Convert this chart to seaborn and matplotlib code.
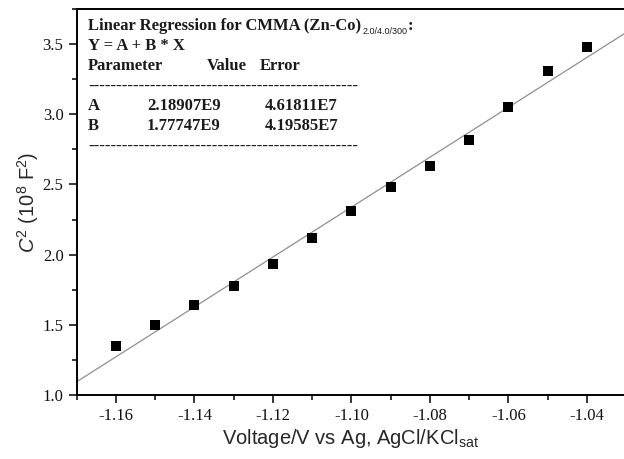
import matplotlib
matplotlib.use("Agg")
import matplotlib.pyplot as plt
import seaborn as sns
import pandas as pd
from matplotlib.ticker import MultipleLocator, FormatStrFormatter

# Mott-Schottky: C^2 contra potencial
voltage = [-1.16, -1.15, -1.14, -1.13, -1.12, -1.11, -1.10,
           -1.09, -1.08, -1.07, -1.06, -1.05, -1.04]
c2 = [1.35, 1.50, 1.64, 1.78, 1.93, 2.12, 2.31,
      2.48, 2.63, 2.82, 3.05, 3.31, 3.48]

# parâmetros da regressão (Origin)
param_names = ["A", "B"]
param_values = [2.18907e9, 1.77747e9]
param_errors = [4.61811e7, 4.19585e7]
param_labels = ["2.18907E9", "1.77747E9"]
error_labels = ["4.61811E7", "4.19585E7"]

df = pd.DataFrame({"voltage": voltage, "c2": c2})

sns.set_style("ticks")
plt.rcParams["font.family"] = ["Liberation Serif", "DejaVu Serif"]
plt.rcParams["axes.unicode_minus"] = False
plt.rcParams["mathtext.fontset"] = "custom"
plt.rcParams["mathtext.rm"] = "Liberation Sans"
plt.rcParams["mathtext.it"] = "Liberation Sans:italic"

fig = plt.figure(figsize=(6.24, 4.59), dpi=100)
ax = fig.add_axes([76.7 / 624, 1 - 395 / 459, 1 - 76.7 / 624, (395 - 9) / 459])

# reta ajustada, em unidades de 1e8
ax.axline((0, param_values[0] / 1e8), slope=param_values[1] / 1e8,
          color="#8f8f8f", lw=0.9, zorder=1)
sns.scatterplot(data=df, x="voltage", y="c2", marker="s", color="black",
                s=44, edgecolor="black", linewidth=0, ax=ax, zorder=2)

ax.set_xlim(-1.17, -1.17 + (624 - 76.7) / 3925)
ax.set_ylim(1.0, 3.75)
ax.xaxis.set_major_locator(MultipleLocator(0.02))
ax.xaxis.set_minor_locator(MultipleLocator(0.01))
ax.yaxis.set_major_locator(MultipleLocator(0.5))
ax.yaxis.set_minor_locator(MultipleLocator(0.25))
ax.xaxis.set_major_formatter(FormatStrFormatter("%.2f"))
ax.yaxis.set_major_formatter(FormatStrFormatter("%.1f"))
ax.tick_params(which="major", direction="out", length=6, width=1.1,
               labelsize=12, color="black", labelcolor="#111111")
ax.tick_params(which="minor", direction="out", length=3.5, width=1.1,
               color="black")
for side in ["left", "bottom", "top"]:
    ax.spines[side].set_linewidth(1.4)
    ax.spines[side].set_color("black")
ax.spines["right"].set_visible(False)

ax.set_xlabel(r"Voltage/V vs Ag, AgCl/KCl$_{\mathrm{sat}}$",
              family="Liberation Sans", fontsize=14.5, labelpad=2)
ax.set_ylabel(r"$\mathit{C}^{2}$ (10$^{8}$ F$^{2}$)",
              family="Liberation Sans", fontsize=14.5, labelpad=1)

# caixa de texto do ajuste
def px(x, y):
    return x / 624, 1 - y / 459

kw = dict(fontsize=12, fontweight="bold", va="center", color="#1a1a1a")
title = fig.text(*px(88, 26), "Linear Regression for CMMA (Zn-Co)", **kw)
# subscrito pequeno logo após o título
renderer = fig.canvas.get_renderer()
bb = title.get_window_extent(renderer)
sub = fig.text(bb.x1 / 624 + 0.002, 1 - 32 / 459, "2.0/4.0/300",
               family="Liberation Sans", fontsize=6.5, va="center",
               color="#1a1a1a")
bb2 = sub.get_window_extent(renderer)
fig.text(bb2.x1 / 624 + 0.001, 1 - 26 / 459, ":", **kw)

fig.text(*px(88, 46), "Y = A + B * X", **kw)
fig.text(*px(88, 66), "Parameter", **kw)
fig.text(*px(207, 66), "Value", **kw)
fig.text(*px(260, 66), "Error", **kw)
fig.text(*px(88, 87), "-" * 48, **kw)
for i, name in enumerate(param_names):
    y = 106 + 20 * i
    fig.text(*px(88, y), name, **kw)
    fig.text(*px(147, y), param_labels[i], **kw)
    fig.text(*px(265, y), error_labels[i], **kw)
fig.text(*px(88, 147), "-" * 48, **kw)

fig.savefig("out.png", dpi=100)
